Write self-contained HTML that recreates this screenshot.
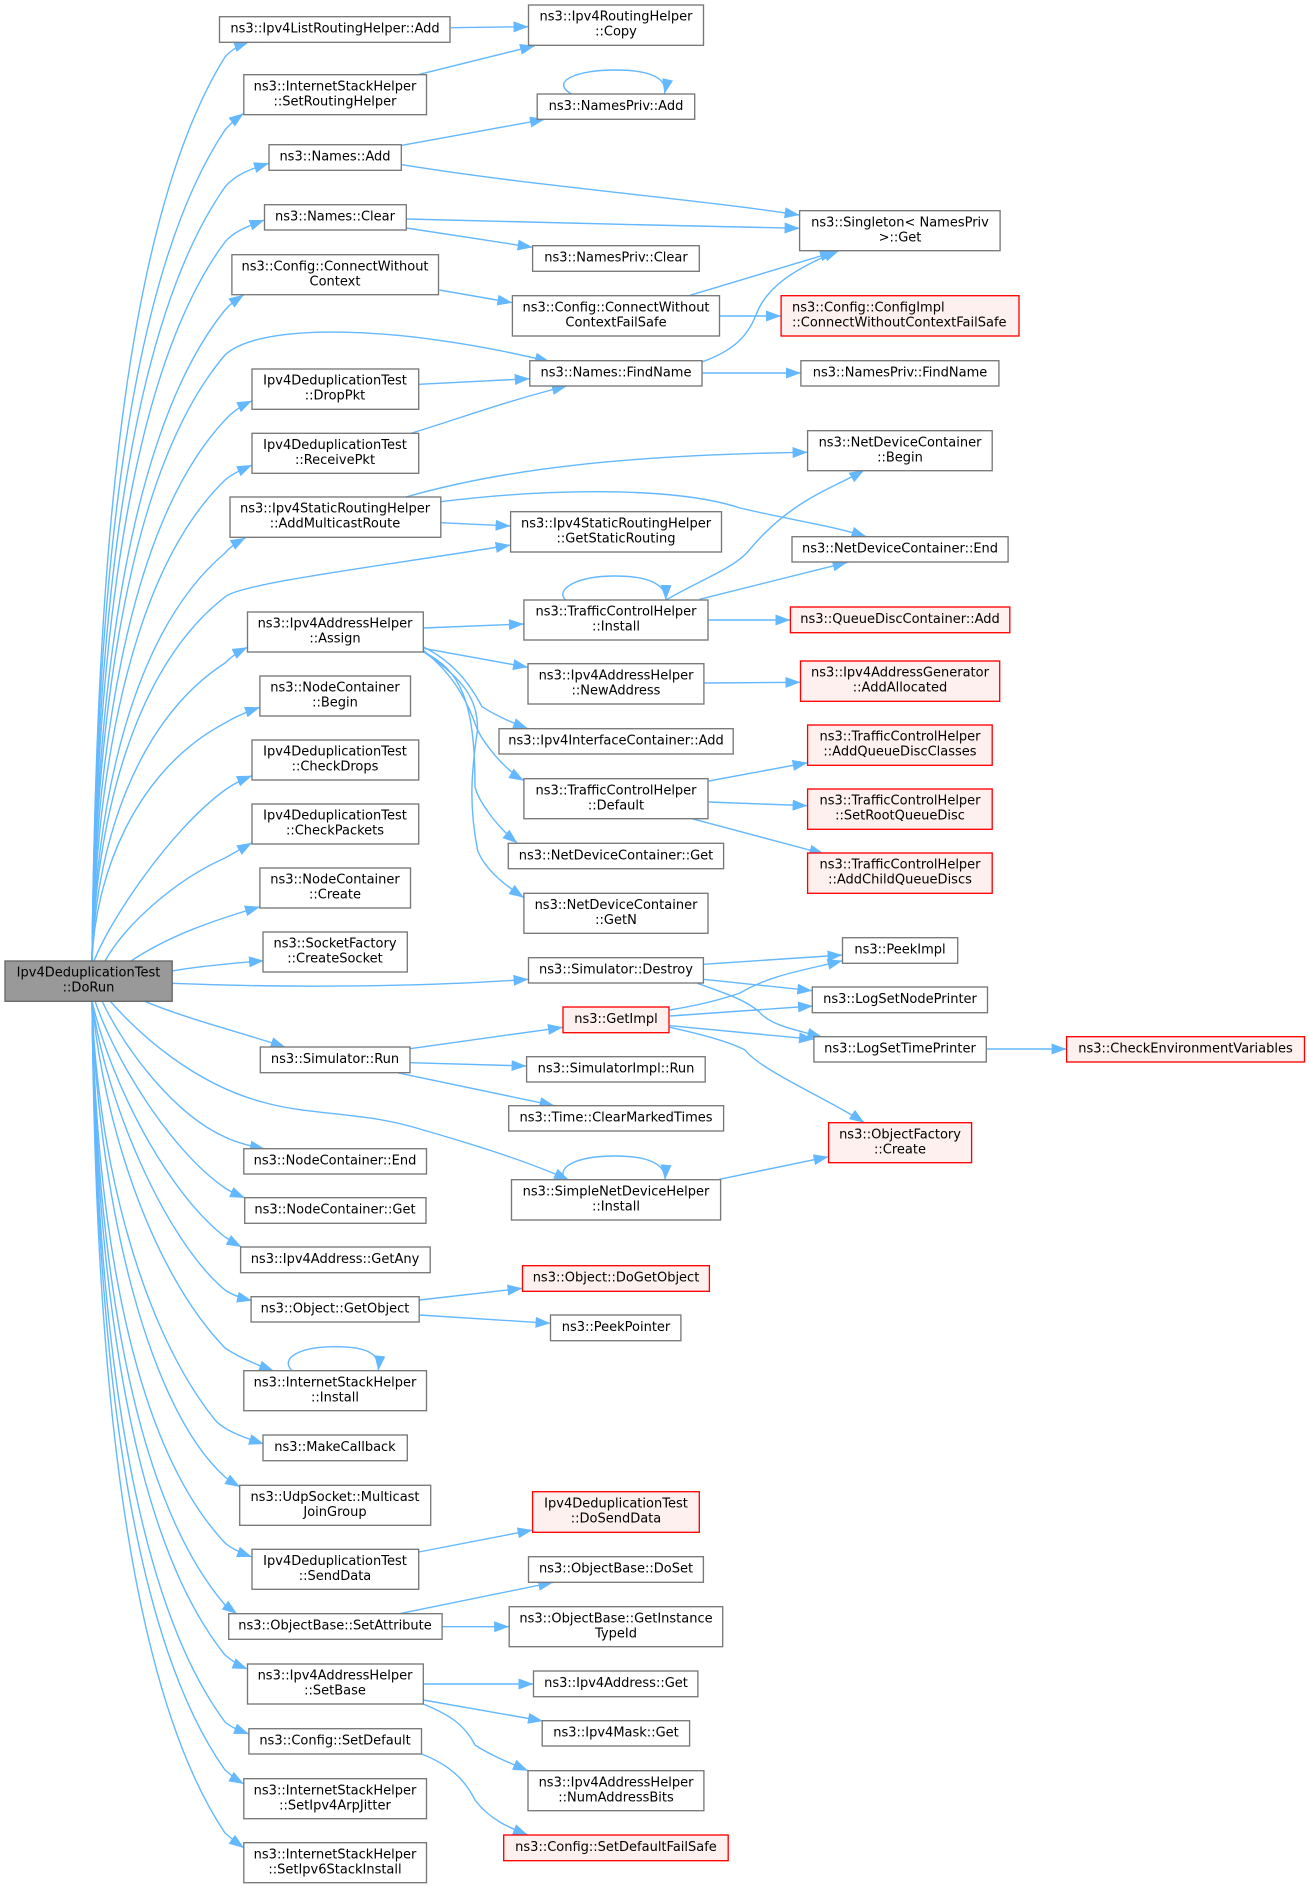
<!DOCTYPE html>
<html><head><meta charset="utf-8"><title>Ipv4DeduplicationTest::DoRun call graph</title>
<style>
html,body{margin:0;padding:0;background:#fff}
svg{display:block}
.e path{fill:none;stroke:#63b8ff;stroke-width:1.4;marker-end:url(#a)}
.n rect{fill:#fff;stroke:#777;stroke-width:1.33}
.r rect{fill:#fff0f0;stroke:#f00;stroke-width:1.33}
.g rect{fill:#999;stroke:#666;stroke-width:1.33}
text{font-family:"DejaVu Sans",sans-serif;font-size:13px;fill:#000;text-anchor:middle}
text.l{text-anchor:start}
</style></head><body>
<svg width="1309" height="1888" viewBox="0 0 1309 1888" xmlns="http://www.w3.org/2000/svg">
<defs><marker id="a" markerUnits="userSpaceOnUse" markerWidth="15" markerHeight="11" refX="15" refY="5.5" orient="auto"><path d="M0,0L15,5.5L0,11z" fill="#63b8ff"/></marker></defs>
<rect width="1309" height="1888" fill="#fff"/>
<g class="e">
<path d="M92,961C96,640 112,238 225,57C231,50 240,45 249,42"/>
<path d="M92,961C95,666 114,296 225,130C230,124 236,119 243.8,113.3"/>
<path d="M92,961C95,686 116,342 225,187C235,175 250,169 269,163.3"/>
<path d="M92,961C95,706 118,386 225,242C233,232 248,226 264.5,220"/>
<path d="M92,961C95,730 120,440 225,310C230,304 236,300 243.8,294.7"/>
<path d="M92,961C95,746 122,476 225,355C260,322 400,325 550,361.7"/>
<path d="M92,961C95,769 124,528 225,420C232,412 241,406 252,400.7"/>
<path d="M92,961C95,790 126,576 225,480C232,474 241,470 252,465"/>
<path d="M92,961C95,816 128,635 225,553C230,547 236,543 245.6,537.7"/>
<path d="M92,961C95,832 130,670 225,597C240,583 390,565 510.6,545"/>
<path d="M92,961C95,855 132,723 225,663C231,657 238,652 247.5,647.3"/>
<path d="M92,961C95,877 134,771 225,723C235,717 246,712 260,707.3"/>
<path d="M94,961C110,920 170,830 225,790C232,785 241,780 252,775.7"/>
<path d="M105,961C125,925 175,880 225,858C232,854 241,849 252,842.7"/>
<path d="M131,961C170,935 215,920 260,906.7"/>
<path d="M172,971C200,966 235,963 264,960.7"/>
<path d="M172,983.3C290,988 420,987 528.5,979.3"/>
<path d="M144.6,1001.3C190,1020 240,1032 285.6,1047.3"/>
<path d="M110,1001C140,1035 195,1085 266,1103C310,1115 360,1112 413,1127C465,1142 525,1160 569,1180"/>
<path d="M102,1001C125,1050 175,1115 225,1137C235,1142 250,1146 265,1149"/>
<path d="M95,1001C115,1060 170,1150 225,1188C231,1192 238,1195 245,1198"/>
<path d="M92,1001C110,1080 165,1190 225,1237C230,1240 236,1244 241.5,1247"/>
<path d="M92,1001C105,1100 165,1240 225,1290C232,1295 241,1298 252,1300.7"/>
<path d="M92,1001C103,1120 150,1270 225,1348C240,1358 257,1365 274,1371"/>
<path d="M92,1001C96,1140 135,1320 215,1420C225,1431 245,1438 264,1444"/>
<path d="M92,1001C96,1170 140,1400 225,1477C230,1481 235,1484 240,1487"/>
<path d="M92,1001C95,1193 124,1435 225,1543C232,1549 241,1553 252,1557"/>
<path d="M92,1001C95,1215 122,1484 225,1605C229,1609 233,1611 237,1614"/>
<path d="M92,1001C95,1233 120,1524 225,1655C232,1661 240,1666 247.5,1669"/>
<path d="M92,1001C95,1257 118,1578 225,1722C232,1728 241,1731 249,1734"/>
<path d="M92,1001C95,1274 116,1616 225,1770C231,1775 237,1780 244,1784"/>
<path d="M92,1001C95,1296 114,1667 225,1833C231,1838 237,1843 244,1848"/>
<path d="M451,27.7L528.5,26.7"/>
<path d="M418,74.7L535,45.7"/>
<path d="M402,145.3L545,119.3"/>
<path d="M402,164.7C540,187 680,197 799.6,215"/>
<path d="M406.4,219L650,225L799.6,228.3"/>
<path d="M406.4,228L532.6,247.3"/>
<path d="M439.4,290L512.4,302.7"/>
<path d="M690,295.3L835,251.7"/>
<path d="M720,316L781,316"/>
<path d="M702.5,361.7C735,350 748,335 756,315C765,290 790,270 839,250.7"/>
<path d="M702,373L800.9,373"/>
<path d="M418.7,384.3L529.8,378.7"/>
<path d="M411,433.3C470,415 510,400 567,386"/>
<path d="M406,497C500,470 620,455 807.6,452.3"/>
<path d="M440.8,501.7C560,487 680,488 740,508C790,520 830,525 866.5,536.7"/>
<path d="M440.8,522.7L510.6,526"/>
<path d="M565.7,600C555,590 575,576 615,576C650,576 666,585 665.8,600"/>
<path d="M666,600C700,580 730,570 746.7,553C790,500 830,490 864.4,470"/>
<path d="M699.6,599.3L847.6,562.3"/>
<path d="M708,620L790.4,620"/>
<path d="M423.3,628L523.9,624"/>
<path d="M423.3,648.3L528,667.3"/>
<path d="M423,646.7C450,660 468,680 482,706.7C495,715 510,722 528,728.7"/>
<path d="M423,650C460,680 470,710 477.5,730C485,745 505,770 524,780.7"/>
<path d="M423.3,651.7C460,670 475,700 475,786.7C478,800 495,825 517.5,843.3"/>
<path d="M423.3,651.7C465,680 478,700 477.5,730C470,780 470,810 477.5,850C485,870 505,885 524,897.7"/>
<path d="M704.6,683L800.5,682.3"/>
<path d="M708.8,781L807.6,762.7"/>
<path d="M708.8,802L807.6,805.7"/>
<path d="M692,818.7L824.4,854"/>
<path d="M703.4,964.3L842.5,955"/>
<path d="M703.4,979.3L812.3,990.7"/>
<path d="M697.5,983.3C730,995 745,1000 759,1011.7C770,1025 795,1030 822.3,1037"/>
<path d="M669.8,1010C700,1005 720,1000 740,993C770,975 805,970 842.5,960.7"/>
<path d="M669.8,1016L813,1006"/>
<path d="M669.8,1025.7L814,1039.3"/>
<path d="M669.8,1027.3C705,1035 730,1042 745,1050C760,1070 830,1100 864.4,1122.7"/>
<path d="M987,1049L1066.6,1049"/>
<path d="M410,1048.7L563,1027.3"/>
<path d="M410,1062.7L526.6,1066"/>
<path d="M397,1072.7L554.6,1105.7"/>
<path d="M566,1179.7C555,1168 575,1156 615,1156C650,1156 666,1165 665,1179.7"/>
<path d="M719.4,1179.3L828.6,1156.7"/>
<path d="M419.6,1300L522.5,1288.3"/>
<path d="M419.6,1315L550.5,1323.3"/>
<path d="M291.5,1370C280,1358 300,1346.7 335,1346.7C370,1346.7 380,1355 378.3,1370.7"/>
<path d="M571.6,94C550,82 575,70 615,70C650,70 668,78 664.4,94"/>
<path d="M418.7,1552L532.6,1530"/>
<path d="M399.4,1613.7L553.3,1582.3"/>
<path d="M442.1,1626.7L509.2,1626.7"/>
<path d="M423.3,1684L533.5,1684"/>
<path d="M423.3,1700L543,1721"/>
<path d="M423.3,1704C450,1715 465,1725 475,1745C490,1755 510,1763 528,1770.7"/>
<path d="M421.5,1754C450,1765 465,1780 475,1800C490,1820 510,1828 528,1835"/>
</g>
<g class="n">
<rect x="219.5" y="16.7" width="230.5" height="25.6"/><text x="335" y="32.7">ns3::Ipv4ListRoutingHelper::Add</text>
<rect x="528.5" y="5" width="175" height="40.3"/><text x="616" y="20.7">ns3::Ipv4RoutingHelper</text><text x="616" y="35.7">::Copy</text>
<rect x="243.8" y="74.7" width="182.7" height="40"/><text x="335" y="90.4">ns3::InternetStackHelper</text><text x="335" y="105.4">::SetRoutingHelper</text>
<rect x="537.2" y="94" width="157.5" height="25.3"/><text x="616" y="110">ns3::NamesPriv::Add</text>
<rect x="269" y="144.7" width="132.3" height="25.6"/><text x="335" y="160.7">ns3::Names::Add</text>
<rect x="264.5" y="204.7" width="141.8" height="25.3"/><text x="335" y="220.7">ns3::Names::Clear</text>
<rect x="532.6" y="245.7" width="166.7" height="25.6"/><text x="616" y="261.7">ns3::NamesPriv::Clear</text>
<rect x="231.9" y="254.7" width="206.6" height="40"/><text x="335" y="270.4">ns3::Config::ConnectWithout</text><text x="335" y="285.4">Context</text>
<rect x="512.4" y="295.7" width="207.1" height="40.3"/><text x="616" y="311.4">ns3::Config::ConnectWithout</text><text x="616" y="326.4">ContextFailSafe</text>
<rect x="529.8" y="360.7" width="172.2" height="25.3"/><text x="616" y="376.7">ns3::Names::FindName</text>
<rect x="252" y="369" width="166.7" height="40.3"/><text x="335" y="384.7">Ipv4DeduplicationTest</text><text x="335" y="399.7">::DropPkt</text>
<rect x="252" y="433.3" width="166.7" height="40"/><text x="335" y="449">Ipv4DeduplicationTest</text><text x="335" y="464">::ReceivePkt</text>
<rect x="799.6" y="210.7" width="200.5" height="40"/><text x="900" y="226.4">ns3::Singleton&lt; NamesPriv</text><text x="900" y="241.4">&gt;::Get</text>
<rect x="800.9" y="360.7" width="198" height="25.3"/><text x="900" y="376.7">ns3::NamesPriv::FindName</text>
<rect x="807.6" y="430.7" width="184.6" height="40"/><text x="900" y="446.4">ns3::NetDeviceContainer</text><text x="900" y="461.4">::Begin</text>
<rect x="230" y="497" width="210.8" height="40.3"/><text x="335" y="512.7">ns3::Ipv4StaticRoutingHelper</text><text x="335" y="527.7">::AddMulticastRoute</text>
<rect x="510.6" y="511.7" width="210.9" height="40.3"/><text x="616" y="527.4">ns3::Ipv4StaticRoutingHelper</text><text x="616" y="542.4">::GetStaticRouting</text>
<rect x="523.9" y="600" width="184.1" height="40"/><text x="616" y="615.7">ns3::TrafficControlHelper</text><text x="616" y="630.7">::Install</text>
<rect x="247.5" y="612" width="175.8" height="40"/><text x="335" y="627.7">ns3::Ipv4AddressHelper</text><text x="335" y="642.7">::Assign</text>
<rect x="528" y="663.7" width="175.9" height="40.3"/><text x="616" y="679.4">ns3::Ipv4AddressHelper</text><text x="616" y="694.4">::NewAddress</text>
<rect x="499" y="728.7" width="234.2" height="25.3"/><text x="616" y="744.7">ns3::Ipv4InterfaceContainer::Add</text>
<rect x="259.9" y="676" width="150.6" height="40"/><text x="335" y="691.7">ns3::NodeContainer</text><text x="335" y="706.7">::Begin</text>
<rect x="252" y="740" width="166.7" height="40"/><text x="335" y="755.7">Ipv4DeduplicationTest</text><text x="335" y="770.7">::CheckDrops</text>
<rect x="252" y="804" width="166.7" height="40"/><text x="335" y="819.7">Ipv4DeduplicationTest</text><text x="335" y="834.7">::CheckPackets</text>
<rect x="259.9" y="868" width="150.6" height="40"/><text x="335" y="883.7">ns3::NodeContainer</text><text x="335" y="898.7">::Create</text>
<rect x="523.9" y="778.7" width="184.1" height="40"/><text x="616" y="794.4">ns3::TrafficControlHelper</text><text x="616" y="809.4">::Default</text>
<rect x="508.3" y="843.3" width="215.3" height="25.4"/><text x="616" y="859.3">ns3::NetDeviceContainer::Get</text>
<rect x="523.9" y="893.3" width="184.1" height="40"/><text x="616" y="909">ns3::NetDeviceContainer</text><text x="616" y="924">::GetN</text>
<rect x="263" y="932" width="144.3" height="40"/><text x="335" y="947.7">ns3::SocketFactory</text><text x="335" y="962.7">::CreateSocket</text>
<rect x="792" y="536.7" width="216.1" height="25.3"/><text x="900" y="552.7">ns3::NetDeviceContainer::End</text>
<rect x="842.5" y="937.7" width="115.2" height="25.6"/><text x="900" y="953.7">ns3::PeekImpl</text>
<rect x="528.5" y="957.7" width="174.9" height="25.3"/><text x="616" y="973.7">ns3::Simulator::Destroy</text>
<rect x="260.3" y="1047" width="149.7" height="25.7"/><text x="335" y="1063">ns3::Simulator::Run</text>
<rect x="526.6" y="1056.7" width="178.6" height="25.3"/><text x="616" y="1072.7">ns3::SimulatorImpl::Run</text>
<rect x="508.7" y="1105.7" width="214.9" height="25.3"/><text x="616" y="1121.7">ns3::Time::ClearMarkedTimes</text>
<rect x="243.8" y="1148.7" width="182.7" height="25.3"/><text x="335" y="1164.7">ns3::NodeContainer::End</text>
<rect x="244.7" y="1197.7" width="181.3" height="25.6"/><text x="335" y="1213.7">ns3::NodeContainer::Get</text>
<rect x="511.5" y="1179.7" width="209.1" height="40.3"/><text x="616" y="1195.4">ns3::SimpleNetDeviceHelper</text><text x="616" y="1210.4">::Install</text>
<rect x="240.6" y="1247" width="189.6" height="25.7"/><text x="335" y="1263">ns3::Ipv4Address::GetAny</text>
<rect x="251.1" y="1296.7" width="168.1" height="25.3"/><text x="335" y="1312.7">ns3::Object::GetObject</text>
<rect x="550.5" y="1315" width="130.4" height="25.7"/><text x="616" y="1331">ns3::PeekPointer</text>
<rect x="243.8" y="1370.7" width="182.7" height="40"/><text x="335" y="1386.4">ns3::InternetStackHelper</text><text x="335" y="1401.4">::Install</text>
<rect x="812.3" y="987" width="175.2" height="25.7"/><text x="900" y="1003">ns3::LogSetNodePrinter</text>
<rect x="813.9" y="1036.7" width="172.4" height="25.3"/><text x="900" y="1052.7">ns3::LogSetTimePrinter</text>
<rect x="263" y="1435" width="144.3" height="25.7"/><text x="335" y="1451">ns3::MakeCallback</text>
<rect x="239.7" y="1485.3" width="191" height="40"/><text x="335" y="1501">ns3::UdpSocket::Multicast</text><text x="335" y="1516">JoinGroup</text>
<rect x="252" y="1549.3" width="166.7" height="40"/><text x="335" y="1565">Ipv4DeduplicationTest</text><text x="335" y="1580">::SendData</text>
<rect x="528.5" y="1556.7" width="174.9" height="25.6"/><text x="616" y="1572.7">ns3::ObjectBase::DoSet</text>
<rect x="228.7" y="1613.7" width="213.4" height="25.6"/><text x="335" y="1629.7">ns3::ObjectBase::SetAttribute</text>
<rect x="509.2" y="1606.7" width="213.5" height="40"/><text x="616" y="1622.4">ns3::ObjectBase::GetInstance</text><text x="616" y="1637.4">TypeId</text>
<rect x="247.5" y="1664" width="175.8" height="40"/><text x="335" y="1679.7">ns3::Ipv4AddressHelper</text><text x="335" y="1694.7">::SetBase</text>
<rect x="533.5" y="1671" width="164.4" height="25.7"/><text x="616" y="1687">ns3::Ipv4Address::Get</text>
<rect x="542.2" y="1720.7" width="147.4" height="25.3"/><text x="616" y="1736.7">ns3::Ipv4Mask::Get</text>
<rect x="248.9" y="1728.7" width="172.6" height="25.3"/><text x="335" y="1744.7">ns3::Config::SetDefault</text>
<rect x="528" y="1770.7" width="175.9" height="40"/><text x="616" y="1786.4">ns3::Ipv4AddressHelper</text><text x="616" y="1801.4">::NumAddressBits</text>
<rect x="243.8" y="1778.7" width="182.7" height="40"/><text x="335" y="1794.4">ns3::InternetStackHelper</text><text x="335" y="1809.4">::SetIpv4ArpJitter</text>
<rect x="243.8" y="1842.7" width="182.7" height="40"/><text x="335" y="1858.4">ns3::InternetStackHelper</text><text x="335" y="1873.4">::SetIpv6StackInstall</text>
</g>
<g class="g"><rect x="5" y="961" width="167.2" height="40.3"/><text x="88.5" y="976.7">Ipv4DeduplicationTest</text><text x="88.5" y="991.7">::DoRun</text></g>
<g class="r">
<rect x="781.1" y="295.7" width="237.9" height="40.3"/><text class="l" x="792" y="311.4">ns3::Config::ConfigImpl</text><text class="l" x="792" y="326.4">::ConnectWithoutContextFailSafe</text>
<rect x="790.4" y="607" width="219.4" height="25.7"/><text x="900" y="623">ns3::QueueDiscContainer::Add</text>
<rect x="800.5" y="661" width="199.2" height="40.3"/><text x="900" y="676.7">ns3::Ipv4AddressGenerator</text><text x="900" y="691.7">::AddAllocated</text>
<rect x="807.6" y="725" width="184.6" height="40.3"/><text x="900" y="740.7">ns3::TrafficControlHelper</text><text x="900" y="755.7">::AddQueueDiscClasses</text>
<rect x="807.6" y="789" width="184.6" height="40.3"/><text x="900" y="804.7">ns3::TrafficControlHelper</text><text x="900" y="819.7">::SetRootQueueDisc</text>
<rect x="807.6" y="853" width="184.6" height="40.3"/><text x="900" y="868.7">ns3::TrafficControlHelper</text><text x="900" y="883.7">::AddChildQueueDiscs</text>
<rect x="563" y="1007" width="106" height="25.7"/><text x="616" y="1023">ns3::GetImpl</text>
<rect x="1066.6" y="1036.7" width="237.9" height="25.3"/><text x="1185.5" y="1052.7">ns3::CheckEnvironmentVariables</text>
<rect x="828.6" y="1122.7" width="143" height="40"/><text x="900" y="1138.4">ns3::ObjectFactory</text><text x="900" y="1153.4">::Create</text>
<rect x="522.5" y="1265.7" width="186.9" height="25.6"/><text x="616" y="1281.7">ns3::Object::DoGetObject</text>
<rect x="532.6" y="1491.7" width="166.7" height="40.6"/><text x="616" y="1507.4">Ipv4DeduplicationTest</text><text x="616" y="1522.4">::DoSendData</text>
<rect x="503.7" y="1835" width="224.5" height="25.7"/><text x="616" y="1851">ns3::Config::SetDefaultFailSafe</text>
</g>
</svg>
</body></html>
